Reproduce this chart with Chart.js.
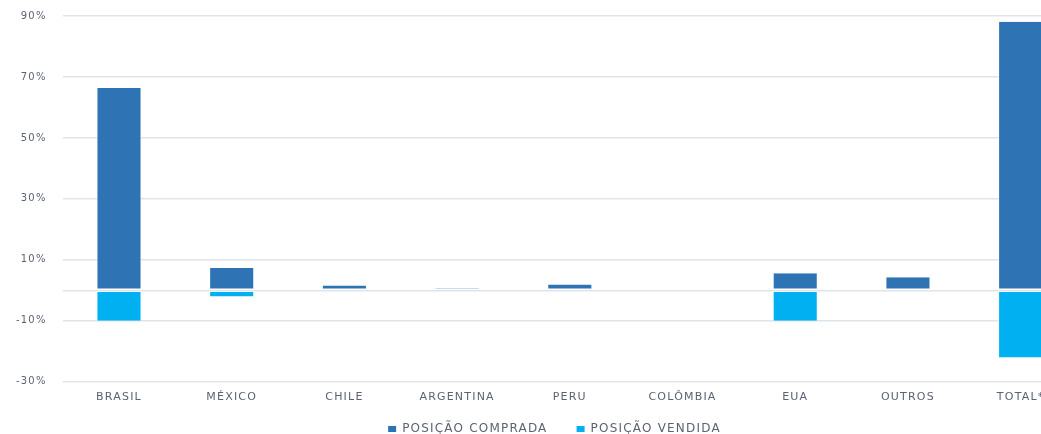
<!DOCTYPE html>
<html>
<head>
<meta charset="utf-8">
<script src="https://cdn.jsdelivr.net/npm/chart.js@4"></script>
<style>
  html, body { margin: 0; padding: 0; overflow: hidden; background: #fff; width: 1041px; height: 434px; }
  #wrap { width: 1108px; height: 451px; position: absolute; left: 0; top: -6px; }
</style>
</head>
<body>
<div id="wrap"><canvas id="c"></canvas></div>
<script>
const categories = ['BRASIL', 'MÉXICO', 'CHILE', 'ARGENTINA', 'PERU', 'COLÔMBIA', 'EUA', 'OUTROS', 'TOTAL*'];
const posicaoComprada = [66.4, 7.3, 1.6, 0.6, 1.9, 0, 5.6, 4.3, 88.1];
const posicaoVendida = [-10, -2, 0, 0, 0, 0, -10, 0, -22];
const yTicks = [-30, -10, 0, 10, 30, 50, 70, 90];

const textColor = '#5b6373';
const font = { family: 'DejaVu Sans', size: 11 };

const spacing = {
  id: 'spacing',
  beforeInit(chart) { chart.ctx.letterSpacing = '1.2px'; },
  beforeLayout(chart) { chart.ctx.letterSpacing = '1.2px'; },
  afterLayout(chart) {
    if (chart.legend) { chart.legend.left += 16; chart.legend.right += 16; }
  },
  beforeDraw(chart) { chart.ctx.letterSpacing = '1.2px'; }
};

new Chart(document.getElementById('c'), {
  type: 'bar',
  plugins: [spacing],
  data: {
    labels: categories,
    datasets: [
      {
        label: 'POSIÇÃO COMPRADA',
        data: posicaoComprada,
        backgroundColor: '#2e74b5',
        borderColor: 'rgba(255,255,255,0.45)',
        borderWidth: { top: 0, left: 1, right: 1, bottom: 1 },
        borderSkipped: false,
        barPercentage: 0.4,
        categoryPercentage: 1.0
      },
      {
        label: 'POSIÇÃO VENDIDA',
        data: posicaoVendida,
        backgroundColor: '#00b0f0',
        borderColor: 'rgba(255,255,255,0.45)',
        borderWidth: { top: 1, left: 1, right: 1, bottom: 0 },
        borderSkipped: false,
        barPercentage: 0.4,
        categoryPercentage: 1.0
      }
    ]
  },
  options: {
    responsive: true,
    maintainAspectRatio: false,
    animation: false,
    layout: { padding: { top: 4, right: 31, left: 0, bottom: 0 } },
    plugins: {
      tooltip: { enabled: false },
      legend: {
        position: 'bottom',
        labels: {
          color: textColor,
          font: { family: 'DejaVu Sans', size: 12 },
          boxWidth: 8,
          boxHeight: 6,
          padding: 4,
          generateLabels: (chart) => {
            const items = Chart.defaults.plugins.legend.labels.generateLabels(chart);
            items.forEach((it, i) => {
              it.lineWidth = 0;
              if (i === 0) it.text = it.text + '     ';
            });
            return items;
          }
        }
      }
    },
    scales: {
      x: {
        stacked: true,
        grid: { display: false, drawTicks: false },
        border: { display: false },
        ticks: { color: textColor, font: font, padding: 9, maxRotation: 0 },
        afterFit: (scale) => { scale.height += 6; }
      },
      y: {
        stacked: true,
        min: -30,
        max: 90,
        afterBuildTicks: (axis) => { axis.ticks = yTicks.map(v => ({ value: v })); },
        grid: { color: '#dfe3ea', lineWidth: 1.5, drawTicks: false },
        border: { display: false },
        ticks: {
          color: textColor,
          font: { family: 'DejaVu Sans', size: 10 },
          padding: 16,
          callback: (v) => v === 0 ? '' : v + '%'
        }
      }
    }
  }
});
</script>
</body>
</html>
